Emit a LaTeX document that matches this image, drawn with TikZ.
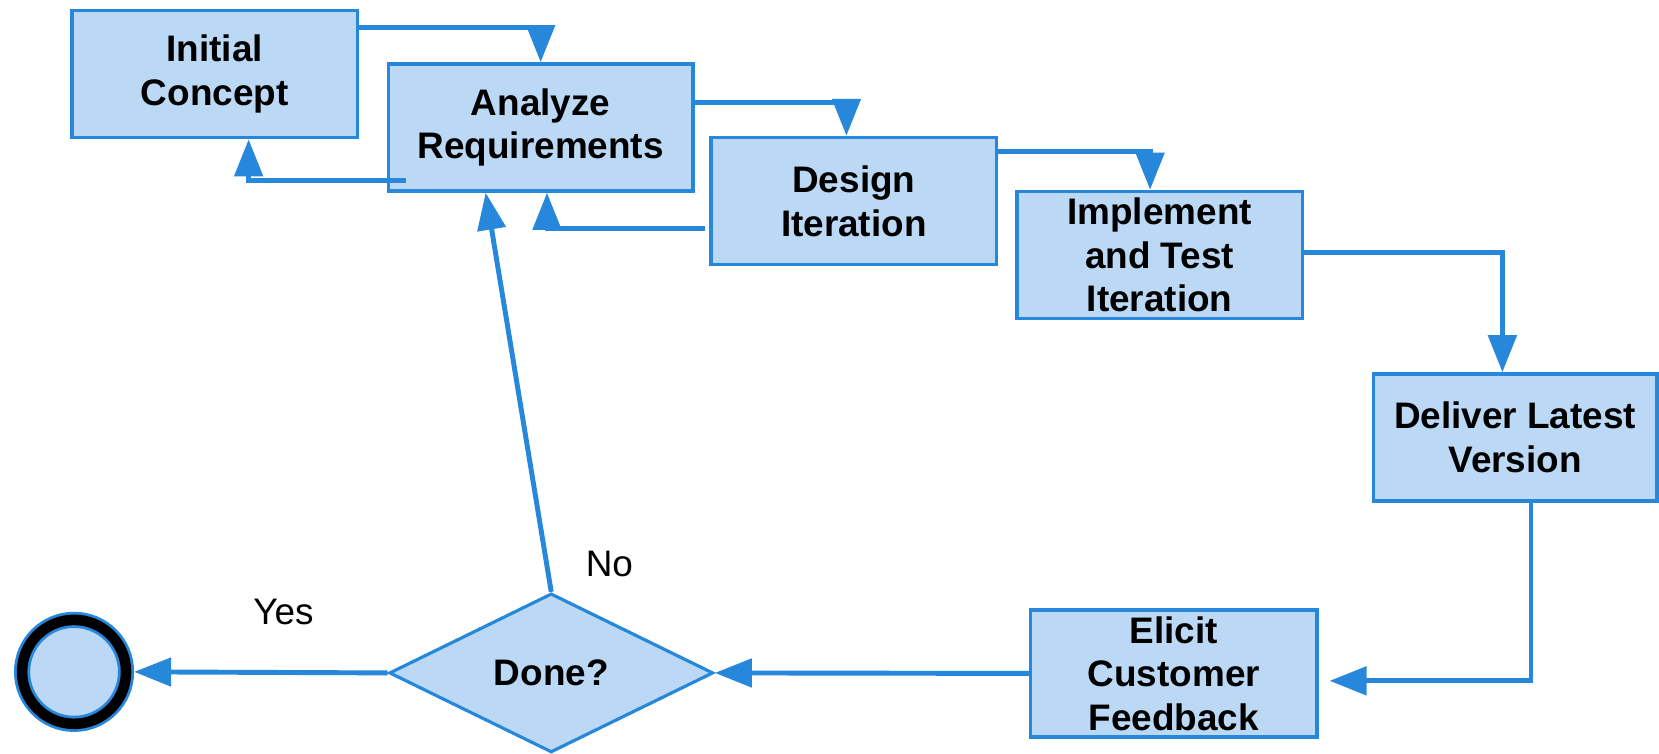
\documentclass[tikz,border=0pt]{standalone}
\usepackage{fontspec}
\setsansfont{Liberation Sans}
\usepackage{tikz}
\usetikzlibrary{shapes.geometric, arrows.meta, calc}
\definecolor{lineblue}{RGB}{39,135,219}
\definecolor{fillblue}{RGB}{187,216,245}

\begin{document}
\begin{tikzpicture}[x=0.1058mm, y=-0.1058mm,
	box/.style={rectangle, draw=lineblue, fill=fillblue, line width=1pt, align=center, inner sep=1pt, minimum height=12.7mm, font=\sffamily\bfseries\fontsize{10.5}{12.4}\selectfont},
	flow/.style={draw=lineblue, line width=1.4pt, -{Triangle[length=3.7mm, width=2.8mm]}},
	lbl/.style={font=\sffamily\fontsize{10.5}{12.4}\selectfont}]
	\useasboundingbox (0,0) rectangle (1568,712);
	\node [box, minimum width=28.57mm] (init) at (203,70) {Initial\\Concept};
	\node [box, minimum width=30.47mm] (anreq) at (511,120.5) {Analyze\\Requirements};
	\node [box, minimum width=28.57mm] (desit) at (807,190) {Design\\Iteration};
	\node [box, minimum width=28.57mm] (impl) at (1096,241) {Implement\\and Test\\Iteration};
	\node [box, minimum width=28.35mm] (deliv) at (1432,413.5) {Deliver Latest\\Version};
	\node [box, minimum width=28.67mm] (elicit) at (1109.5,636.5) {Elicit\\Customer\\Feedback};
	\node [diamond, draw=lineblue, fill=fillblue, line width=0.9pt, inner sep=0pt, minimum width=32.4mm, minimum height=15.9mm, font=\sffamily\bfseries\fontsize{10.5}{12.4}\selectfont] (done) at (521,636) {Done?};
	\node [circle, draw=lineblue, line width=0.8pt, double=black, double distance=3pt, fill=fillblue, minimum size=10.4mm, inner sep=0pt, outer sep=2.3pt] (stop) at (70,635) {};
	\node [lbl] (yes) at (268,578) {Yes};
	\node [lbl] (no) at (576,533) {No};

	\draw [flow] ($(init.north east)+(0,18)$) -| (anreq.north);
	\draw [flow] ($(anreq.south west)+(18,-12)$) -| ($(init.south)+(32,0)$);
	\draw [flow] ($(anreq.north east)+(0,38)$) -| ($(desit.north)+(-7,0)$);
	\draw [flow] ($(desit.west)+(-4,26)$) -| ($(anreq.south)+(6,0)$);
	\draw [flow] ($(desit.north east)+(0,15)$) -| ($(impl.north)+(-9,0)$);
	\draw [flow] ($(impl.east)+(0,-2)$) -| ($(deliv.north)+(-12,0)$);
	\draw [flow] ($(deliv.south)+(15,0)$) |- ($(elicit.east)+(10,7)$);
	\draw [flow] (elicit.west) -- (done.east);
	\draw [flow] (done.west) -- (stop.east);
	\draw [flow] (done.north) -- ($(anreq.south)+(-52,0)$);
\end{tikzpicture}
\end{document}
